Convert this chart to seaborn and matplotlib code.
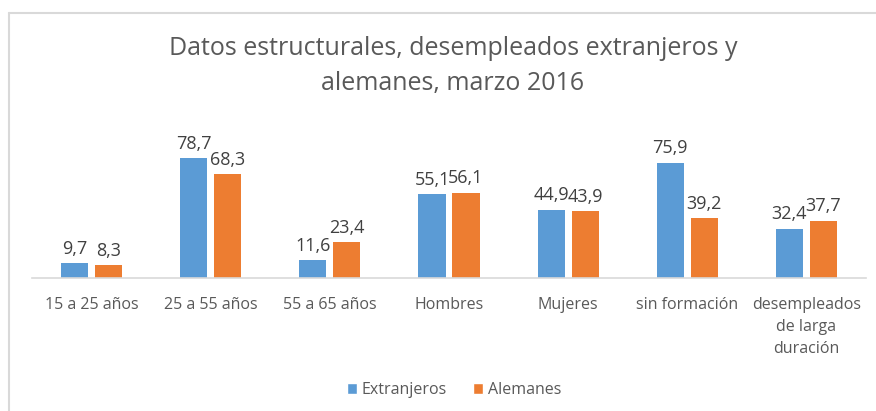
import matplotlib
matplotlib.use("Agg")
import matplotlib.pyplot as plt
import seaborn as sns
import pandas as pd
from matplotlib.lines import Line2D
from matplotlib.patches import Patch

categories = ["15 a 25 años", "25 a 55 años", "55 a 65 años", "Hombres",
              "Mujeres", "sin formación", "desempleados\nde larga\nduración"]
extranjeros = [9.7, 78.7, 11.6, 55.1, 44.9, 75.9, 32.4]
alemanes = [8.3, 68.3, 23.4, 56.1, 43.9, 39.2, 37.7]
series_names = ["Extranjeros", "Alemanes"]
title = "Datos estructurales, desempleados extranjeros y\nalemanes, marzo 2016"

colors = ["#5B9BD5", "#ED7D31"]
text_color = "#595959"

sns.set_theme(style="white")
plt.rcParams["font.family"] = ["Open Sans", "DejaVu Sans"]

df = pd.DataFrame({
    "cat": categories * 2,
    "serie": [series_names[0]] * len(categories) + [series_names[1]] * len(categories),
    "val": extranjeros + alemanes,
})

fig = plt.figure(figsize=(8.76, 4.11), dpi=100)
ax = fig.add_axes([32 / 876, 133 / 411, 834 / 876, 152 / 411])
sns.barplot(data=df, x="cat", y="val", hue="serie", palette=colors,
            width=0.57, ax=ax, legend=False, saturation=1)

bw = 0.227
for p in ax.patches:
    c = p.get_x() + p.get_width() / 2
    p.set_width(bw)
    p.set_x(c - bw / 2)
    p.set_edgecolor("none")

for cont in ax.containers:
    labels = [f"{v:.1f}".replace(".", ",") for v in cont.datavalues]
    ax.bar_label(cont, labels=labels, padding=4, fontsize=13, color="#404040")

ax.set_ylim(0, 100)
ax.set_xlim(-0.5, len(categories) - 0.5)
ax.set_yticks([])
ax.set_xlabel("")
ax.set_ylabel("")
for s in ["top", "right", "left"]:
    ax.spines[s].set_visible(False)
ax.spines["bottom"].set_color("#D9D9D9")
ax.spines["bottom"].set_linewidth(1.2)
ax.tick_params(axis="x", length=0, pad=14, labelsize=11.5, labelcolor=text_color)
for lbl in ax.get_xticklabels():
    lbl.set_linespacing(1.5)

fig.text(453 / 876, 1 - 66 / 411, title, ha="center", va="center",
         fontsize=18, color=text_color, linespacing=1.55)

handles = [Patch(facecolor=colors[i], label=series_names[i]) for i in range(2)]
fig.legend(handles=handles, loc="center", bbox_to_anchor=(454 / 876, 1 - 390 / 411),
           ncol=2, frameon=False, fontsize=11.5, labelcolor=text_color,
           handlelength=0.65, handleheight=0.65, handletextpad=0.3, columnspacing=1.6)

# chart border (top and left visible)
fig.add_artist(Line2D([8.5 / 876, 1.0], [1 - 13 / 411, 1 - 13 / 411],
                      transform=fig.transFigure, color="#D9D9D9", lw=1.5))
fig.add_artist(Line2D([8.5 / 876, 8.5 / 876], [0, 1 - 13 / 411],
                      transform=fig.transFigure, color="#D9D9D9", lw=1.5))

fig.savefig("out.png", dpi=100)
